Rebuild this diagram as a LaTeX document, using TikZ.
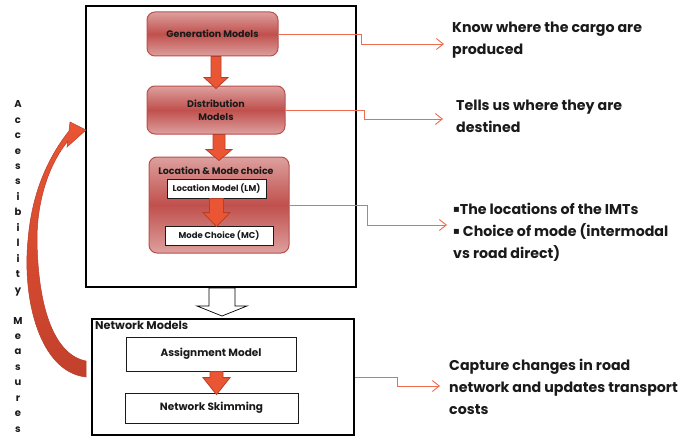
\documentclass[tikz,border=0pt]{standalone}
\usepackage{fontspec}
\setmainfont{Poppins}
\newfontfamily\symfont{DejaVu Sans}
\usetikzlibrary{arrows.meta,calc}
\definecolor{boxlight}{HTML}{DDA09E}
\definecolor{boxdark}{HTML}{C0504D}
\definecolor{boxline}{HTML}{B9504C}
\definecolor{arrowfill}{HTML}{EA5533}
\definecolor{arrowline}{HTML}{B5402A}
\definecolor{arrowdeep}{HTML}{C2402C}
\definecolor{linkred}{HTML}{F26B4F}
\definecolor{inktext}{HTML}{1A1A1A}

% block arrow pointing down: [style]{from}{to}{shaft half}{head half}{head length}
\newcommand{\fatarrow}[6][blockarrow]{%
  \path[#1] let \p1=(#2), \p2=(#3) in
    (\x2-#4pt,\y1) -- (\x2-#4pt,\y2+#6pt) -- (\x2-#5pt,\y2+#6pt) -- (\x2,\y2)
    -- (\x2+#5pt,\y2+#6pt) -- (\x2+#4pt,\y2+#6pt) -- (\x2+#4pt,\y1) -- cycle;}
\newcommand{\sqbullet}{\raisebox{2pt}{\symfont\fontsize{10}{10}\selectfont ▪}}

\begin{document}
\begin{tikzpicture}[x=1pt,y=-1pt,
  model/.style={rounded corners=8pt, draw=boxline, line width=1pt,
    top color=boxlight, bottom color=boxlight, middle color=boxdark,
    text=inktext, align=center, inner sep=0pt,
    font=\fontsize{9.5}{13}\selectfont\bfseries},
  subbox/.style={draw=inktext, fill=white, line width=0.8pt, inner sep=0pt,
    text=inktext, font=\fontsize{8.5}{10}\selectfont\bfseries},
  plainbox/.style={draw=inktext, fill=white, line width=0.8pt, inner sep=0pt,
    text=inktext, font=\fontsize{10.5}{12}\selectfont\bfseries},
  outerbox/.style={draw=black, line width=2pt, inner sep=0pt},
  blockarrow/.style={fill=arrowfill, draw=arrowline, line width=0.8pt},
  hollowarrow/.style={fill=white, draw=black, line width=0.7pt},
  link/.style={draw=linkred, line width=0.9pt, -{Straight Barb[length=7pt,width=11pt]}},
  note/.style={align=left, inner sep=0pt, text=inktext,
    font=\fontsize{14.2}{22}\selectfont\bfseries},
]
\useasboundingbox (0,0) rectangle (682,436);

% demand side
\node[outerbox, minimum width=270pt, minimum height=281pt] (demand) at (221,146.5) {};
\node[model, minimum width=131pt, minimum height=44pt] (gen) at (212.5,34) {Generation Models};
\node[model, minimum width=138pt, minimum height=48pt] (dist) at (216,110) {Distribution\\Models};
\node[model, minimum width=140pt, minimum height=96pt] (locmode) at (219,205) {};
\node[text=inktext, inner sep=0pt, font=\fontsize{9.5}{11}\selectfont\bfseries] (locmodetitle) at (216,171) {Location \& Mode choice};
\node[subbox, minimum width=99pt, minimum height=19pt] (lm) at (216.5,188.5) {Location Model (LM)};
\node[subbox, minimum width=108pt, minimum height=19pt] (mc) at (219,235.5) {Mode Choice (MC)};

% network side
\node[outerbox, minimum width=262pt, minimum height=116pt] (network) at (223,377) {};
\node[anchor=west, inner sep=0pt, text=inktext, font=\fontsize{11.3}{12}\selectfont\bfseries] (nettitle) at (95,325) {Network Models};
\node[plainbox, minimum width=170pt, minimum height=34pt] (assign) at (211,354) {Assignment Model};
\node[plainbox, minimum width=173pt, minimum height=30pt] (skim) at (211.5,408) {Network Skimming};

% block arrows
\fatarrow{gen.south}{[yshift=-3pt]dist.north}{5}{12}{11}
\fatarrow{dist.south}{[yshift=-4pt]locmode.north}{6}{13}{11}
\fatarrow{lm.south}{[xshift=-2.5pt,yshift=-1pt]mc.north}{7}{13.5}{14}
\fatarrow{assign.south}{[xshift=5pt,yshift=-2pt]skim.north}{6.5}{13.5}{17}
\fatarrow[hollowarrow]{demand.south}{[xshift=-1pt,yshift=2pt]network.north}{13}{25}{10}

% feedback arrow
\shadedraw[top color=arrowfill, bottom color=arrowdeep, draw=arrowline, line width=0.5pt]
  (86,377) .. controls (40,372) and (22,300) .. (28,240)
  .. controls (32,190) and (50,155) .. (69,131)
  -- (70,122) -- (86,130) -- (67,147) -- (68,141)
  .. controls (52,160) and (37,195) .. (37,240)
  .. controls (38,310) and (55,355) .. (86,361) -- cycle;
\node[anchor=north, align=center, inner sep=0pt, text=inktext,
  font=\fontsize{10}{15.45}\selectfont\bfseries] (accmeas) at (18,100.5)
  {A\\c\\c\\e\\s\\s\\i\\b\\i\\l\\i\\t\\y\\~\\M\\e\\a\\s\\u\\r\\e\\s};

% explanations
\coordinate (cargotip) at (444,44);
\coordinate (desttip) at (443,119);
\coordinate (modetip) at (447,225);
\coordinate (costtip) at (440,386);
\node[note, anchor=west] (cargo) at (452,40) {Know where the cargo are\\produced};
\node[note, anchor=west] (destined) at (456,116) {Tells us where they are\\destined};
\node[note, anchor=west] (imts) at (453,232) {\sqbullet The locations of the IMTs\\\sqbullet\ Choice of mode (intermodal\\vs road direct)};
\node[note, anchor=west] (costs) at (449,387) {Capture changes in road\\network and updates transport\\costs};

\draw[link] (gen.east) -- ++(83,0) |- (cargotip);
\draw[link] (dist.east) -- ++(79,0) |- (desttip);
\draw[link] (locmode.east) -- ++(78,0) |- (modetip);
\draw[link] (network.east) -- ++(42,0) |- (costtip);
\end{tikzpicture}
\end{document}
